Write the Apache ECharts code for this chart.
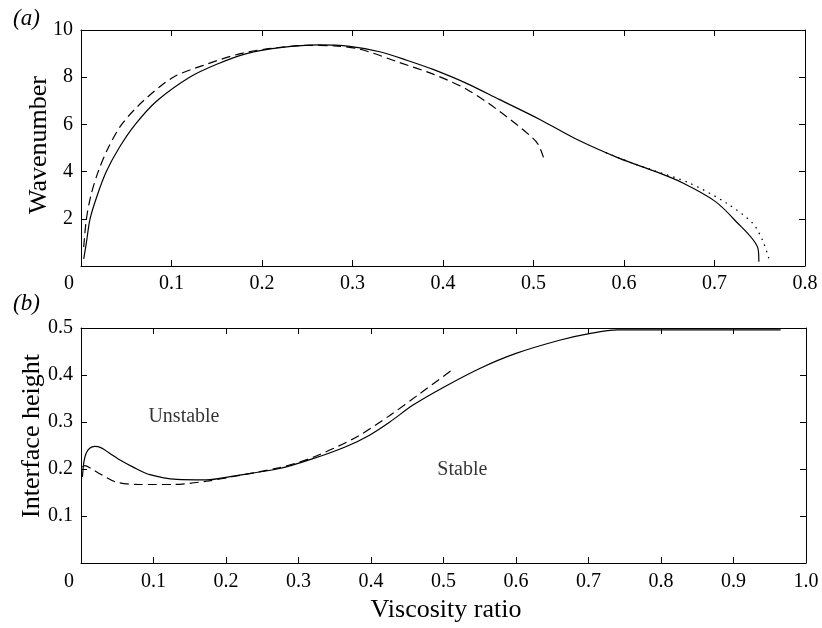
<!DOCTYPE html>
<html>
<head>
<meta charset="utf-8">
<script src="https://cdn.jsdelivr.net/npm/echarts@6/dist/echarts.min.js"></script>
<style>
html,body{margin:0;padding:0;background:#fff;}
#chart{width:822px;height:628px;}
</style>
</head>
<body>
<div id="chart"></div>
<script>
// ---- Panel (a): wavenumber vs viscosity ratio ----
const waveSolid = [[0.003,0.3],[0.006,1.0],[0.010,2.0],[0.018,3.0],[0.028,4.0],[0.042,5.0],[0.060,6.0],[0.084,7.0],[0.120,8.0],[0.150,8.55],[0.183,9.0],[0.220,9.25],[0.262,9.37],[0.297,9.31],[0.330,9.08],[0.360,8.72],[0.389,8.33],[0.426,7.74],[0.462,7.06],[0.507,6.21],[0.547,5.38],[0.595,4.56],[0.635,4.0],[0.665,3.52],[0.700,2.76],[0.722,1.96],[0.748,0.75],[0.749,0.18]];
const waveDashed = [[0.003,0.8],[0.006,2.0],[0.011,3.0],[0.019,4.0],[0.030,5.0],[0.045,6.0],[0.069,7.0],[0.102,8.0],[0.135,8.5],[0.176,9.0],[0.210,9.22],[0.250,9.35],[0.280,9.33],[0.308,9.19],[0.352,8.62],[0.389,8.13],[0.426,7.49],[0.462,6.57],[0.499,5.43],[0.506,5.1],[0.511,4.6]];
const waveDotted = [[0.580,4.80],[0.610,4.35],[0.635,4.02],[0.672,3.52],[0.713,2.67],[0.742,1.82],[0.753,1.1],[0.760,0.33]];

// ---- Panel (b): interface height vs viscosity ratio ----
const heightSolid = [[0.002,0.183],[0.004,0.215],[0.007,0.233],[0.012,0.244],[0.019,0.248],[0.028,0.245],[0.040,0.233],[0.055,0.218],[0.072,0.204],[0.095,0.188],[0.132,0.178],[0.173,0.177],[0.210,0.185],[0.274,0.201],[0.320,0.222],[0.366,0.248],[0.398,0.272],[0.426,0.300],[0.458,0.336],[0.499,0.373],[0.550,0.414],[0.600,0.446],[0.660,0.474],[0.701,0.488],[0.740,0.496],[0.965,0.496]];
const heightDashed = [[0.002,0.204],[0.005,0.207],[0.015,0.200],[0.026,0.190],[0.049,0.172],[0.081,0.167],[0.127,0.167],[0.173,0.174],[0.210,0.184],[0.274,0.203],[0.320,0.225],[0.380,0.268],[0.426,0.314],[0.467,0.360],[0.513,0.412]];
const regionLabels = [{name:'Unstable', value:[0.142,0.312]},{name:'Stable', value:[0.526,0.199]}];

const xTicksTop = {min:0, max:0.8, interval:0.1};
const yTicksTop = {min:0, max:10, interval:2};
const xTicksBot = {min:0, max:1.0, interval:0.1};
const yTicksBot = {min:0, max:0.5, interval:0.1};

const FONT = 'Liberation Serif, Times New Roman, serif';
const black = '#000';

function axisBase(extra){
  return Object.assign({
    type:'value',
    axisLine:{show:true, onZero:false, lineStyle:{color:black, width:1}},
    axisTick:{show:true, inside:true, length:6, lineStyle:{color:black, width:1}},
    splitLine:{show:false},
    axisLabel:{color:black, fontFamily:FONT, fontSize:20}
  }, extra);
}
function mirror(extra){
  const a = axisBase(extra);
  a.axisLabel = {show:false};
  return a;
}
const zeroLeft = {z:{padding:[0,24,0,0], fontFamily:FONT, fontSize:20, color:black}};
const lineCommon = {type:'line', showSymbol:false, smooth:0.3};

const chart = echarts.init(document.getElementById('chart'), null, {renderer:'canvas'});
chart.setOption({
  animation:false,
  backgroundColor:'#fff',
  grid:[
    {left:81, right:17, top:30, height:236},
    {left:81, right:16, top:328, height:235}
  ],
  xAxis:[
    axisBase(Object.assign({gridIndex:0, position:'bottom', axisLabel:{color:black, fontFamily:FONT, fontSize:20, margin:8, rich:zeroLeft,
      formatter:v => v===0 ? '{z|0}' : v.toFixed(1)}}, xTicksTop)),
    mirror(Object.assign({gridIndex:0, position:'top'}, xTicksTop)),
    axisBase(Object.assign({gridIndex:1, position:'bottom', axisLabel:{color:black, fontFamily:FONT, fontSize:20, margin:9, rich:zeroLeft,
      formatter:v => v===0 ? '{z|0}' : v.toFixed(1)}}, xTicksBot)),
    mirror(Object.assign({gridIndex:1, position:'top'}, xTicksBot))
  ],
  yAxis:[
    axisBase(Object.assign({gridIndex:0, position:'left', axisLabel:{color:black, fontFamily:FONT, fontSize:20, margin:8,
      formatter:v => v===0 ? '' : String(v)}}, yTicksTop)),
    mirror(Object.assign({gridIndex:0, position:'right'}, yTicksTop)),
    axisBase(Object.assign({gridIndex:1, position:'left', axisLabel:{color:black, fontFamily:FONT, fontSize:20, margin:8,
      formatter:v => v===0 ? '' : v.toFixed(1)}}, yTicksBot)),
    mirror(Object.assign({gridIndex:1, position:'right'}, yTicksBot))
  ],
  series:[
    Object.assign({xAxisIndex:0, yAxisIndex:0, data:waveSolid, lineStyle:{color:black, width:1.2}}, lineCommon),
    Object.assign({xAxisIndex:0, yAxisIndex:0, data:waveDashed, lineStyle:{color:black, width:1.2, type:[9,5]}}, lineCommon),
    Object.assign({xAxisIndex:0, yAxisIndex:0, data:waveDotted, lineStyle:{color:black, width:1.3, type:[1.5,5]}}, lineCommon),
    Object.assign({xAxisIndex:2, yAxisIndex:2, data:heightSolid, lineStyle:{color:black, width:1.2}}, lineCommon),
    Object.assign({xAxisIndex:2, yAxisIndex:2, data:heightDashed, lineStyle:{color:black, width:1.2, type:[9,5]}}, lineCommon),
    {type:'scatter', xAxisIndex:2, yAxisIndex:2, data:regionLabels, symbolSize:1, itemStyle:{color:'rgba(0,0,0,0)'},
      label:{show:true, position:'inside', formatter:p => p.name, color:black, fontFamily:FONT, fontSize:20}}
  ],
  graphic:[
    {type:'text', left:13, top:7, style:{text:'(a)', fontFamily:FONT, fontSize:23, fontStyle:'italic', fill:black}},
    {type:'text', left:13, top:292, style:{text:'(b)', fontFamily:FONT, fontSize:23, fontStyle:'italic', fill:black}},
    {type:'text', x:39, y:145, rotation:Math.PI/2, style:{text:'Wavenumber', fontFamily:FONT, fontSize:26, fill:black, align:'center', verticalAlign:'middle'}},
    {type:'text', x:32, y:436, rotation:Math.PI/2, style:{text:'Interface height', fontFamily:FONT, fontSize:26, fill:black, align:'center', verticalAlign:'middle'}},
    {type:'text', x:446, y:610, style:{text:'Viscosity ratio', fontFamily:FONT, fontSize:26, fill:black, align:'center', verticalAlign:'middle'}}
  ]
});
</script>
</body>
</html>
